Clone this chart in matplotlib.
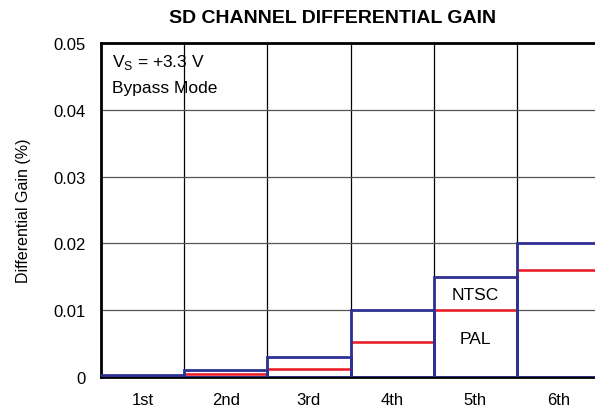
import matplotlib
matplotlib.use("Agg")
import matplotlib.pyplot as plt
import numpy as np

plt.rcParams['font.family'] = ['Liberation Sans', 'DejaVu Sans']

categories = ["1st", "2nd", "3rd", "4th", "5th", "6th"]
ntsc = [0.0003, 0.001, 0.003, 0.010, 0.015, 0.020]
pal = [0.0001, 0.0004, 0.0012, 0.0052, 0.010, 0.016]
yticks = [0, 0.01, 0.02, 0.03, 0.04, 0.05]
yticklabels = ["0", "0.01", "0.02", "0.03", "0.04", "0.05"]

blue = "#2e3192"
red = "#ed1c24"

fig = plt.figure(figsize=(5.95, 4.14), dpi=100)
ax = fig.add_axes([101/595, 36/414, 499/595, 334/414])

x = np.arange(len(categories))
ax.set_xlim(0, len(categories))
ax.set_ylim(0, 0.05)

# grid
for b in x[1:]:
    ax.axvline(b, color="black", lw=0.9, zorder=1)
for yv in yticks[1:-1]:
    ax.axhline(yv, color="#555555", lw=0.9, zorder=1)

# PAL bars (red tops)
ax.bar(x, pal, width=1, align="edge", fill=False, edgecolor="#e07a90", lw=1.0, zorder=2)
ax.hlines(pal, x, x + 1, colors=red, lw=1.8, zorder=3)
# NTSC bars
ax.bar(x, ntsc, width=1, align="edge", fill=False, edgecolor=blue, lw=2.0, zorder=4)

ax.set_xticks(x + 0.5)
ax.set_xticklabels(categories, fontsize=12)
ax.set_yticks(yticks)
ax.set_yticklabels(yticklabels, fontsize=12)
ax.tick_params(axis="both", length=0)
ax.tick_params(axis="x", pad=11)
ax.tick_params(axis="y", pad=11)

for s in ["top", "left", "bottom"]:
    ax.spines[s].set_linewidth(2.0)
    ax.spines[s].set_color("black")
ax.spines["right"].set_visible(False)
ax.spines["bottom"].set_zorder(0)

ax.set_ylabel("Differential Gain (%)", fontsize=11.5, labelpad=16)

ax.text(0.13, 0.0472, r"V$_\mathregular{S}$ = +3.3 V", fontsize=12.5, va="center", ha="left")
ax.text(0.13, 0.0433, "Bypass Mode", fontsize=12.5, va="center", ha="left")
ax.text(4.5, 0.0124, "NTSC", fontsize=12.5, ha="center", va="center")
ax.text(4.5, 0.0057, "PAL", fontsize=12.5, ha="center", va="center")

fig.text(333/595, 1 - 18.5/414, "SD CHANNEL DIFFERENTIAL GAIN", fontsize=14,
         fontweight="bold", ha="center", va="center")

fig.savefig("out.png", dpi=100)
